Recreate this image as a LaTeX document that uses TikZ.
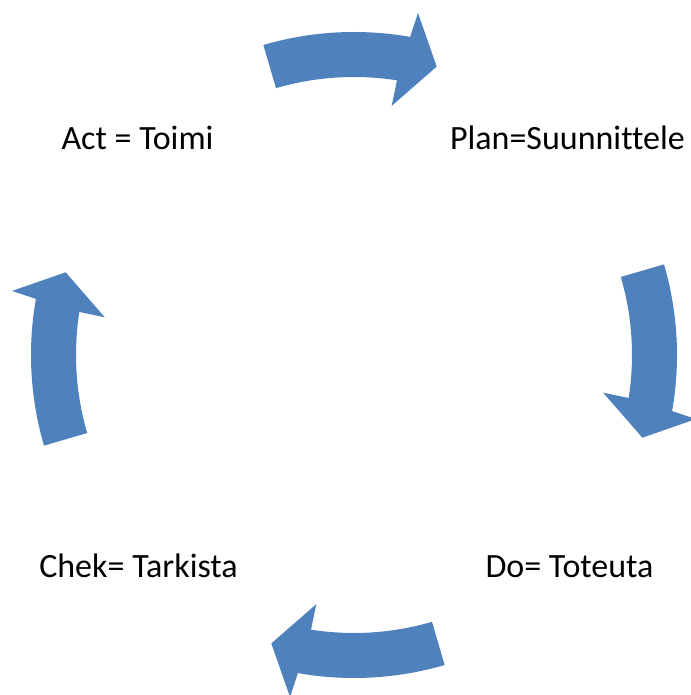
\documentclass[tikz,border=0pt]{standalone}
\usepackage{fontspec}
\setmainfont[Ligatures=NoCommon]{Carlito}
\definecolor{cyc}{HTML}{4F81BD}
\tikzset{
  lbl/.style={anchor=base, inner sep=0pt, font=\fontsize{34}{40}\selectfont},
  cycarrow/.style={fill=cyc, draw=none}
}
\newcommand{\cycarrowpath}[1]{%
  \begin{scope}[shift={(354,340)}, rotate=#1]
    \fill[cycarrow] (106.3:323) arc[start angle=106.3, end angle=80, radius=323]
      -- (79.4:348) -- (74:300) -- (81.4:252) -- (81.1:278)
      arc[start angle=81.1, end angle=106.3, radius=278] -- cycle;
  \end{scope}}
\begin{document}
\begin{tikzpicture}[x=1pt, y=1pt]
  \useasboundingbox (0,0) rectangle (690,695);
  \cycarrowpath{0}
  \cycarrowpath{-90}
  \cycarrowpath{-180}
  \cycarrowpath{90}
  \node[lbl] (act) at (137.5,545) {Act = Toimi};
  \node[lbl] (plan) at (567.5,545) {Plan=Suunnittele};
  \node[lbl] (chek) at (138.5,117) {Chek= Tarkista};
  \node[lbl] (do) at (569.5,117) {Do= Toteuta};
\end{tikzpicture}
\end{document}
